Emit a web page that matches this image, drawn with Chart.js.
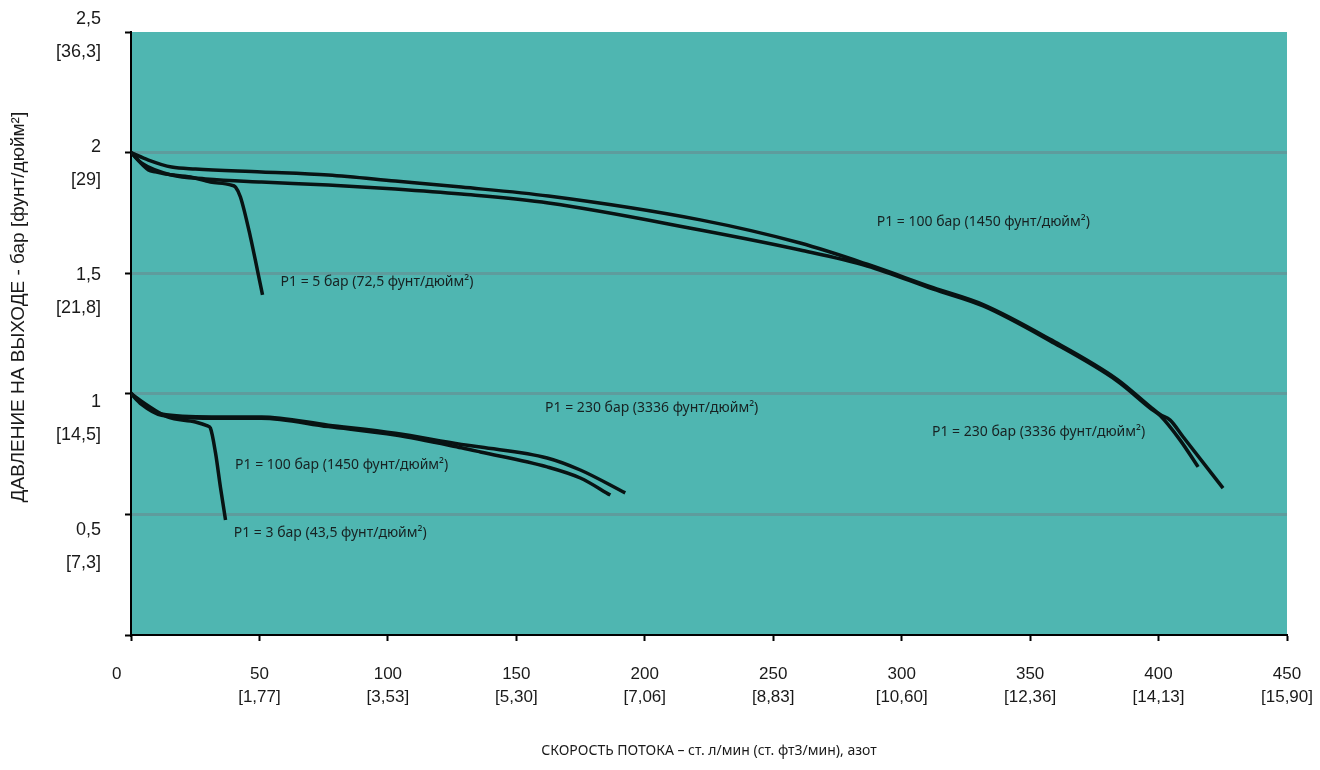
<!DOCTYPE html>
<html lang="ru">
<head>
<meta charset="utf-8">
<title>Расходная характеристика регулятора</title>
<script src="https://cdn.jsdelivr.net/npm/chart.js@4.4.1/dist/chart.umd.min.js"></script>
<style>
    html, body { margin: 0; padding: 0; background: #fff; }
    canvas { display: block; }
</style>
</head>
<body>
<canvas id="flowChart" width="1320" height="770"></canvas>
<script>
// Подписи осей (бар / фунт/дюйм², л/мин / фт3/мин)
const xTickValues = [0, 50, 100, 150, 200, 250, 300, 350, 400, 450];
const xTickLabels = ['0      ', '50', '100', '150', '200', '250', '300', '350', '400', '450'];
const xTickLabelsAlt = ['', '[1,77]', '[3,53]', '[5,30]', '[7,06]', '[8,83]', '[10,60]', '[12,36]', '[14,13]', '[15,90]'];
const yTickValues = [0.5, 1, 1.5, 2, 2.5];
const yTickLabels = ['0,5', '1', '1,5', '2', '2,5'];
const yTickLabelsAlt = ['[7,3]', '[14,5]', '[21,8]', '[29]', '[36,3]'];

// P2 = 2 бар, P1 = 230 бар
const flow2_230 = [0, 6.8, 15.8, 25.1, 50.8, 76.8, 102.9, 128.6, 162.5, 221.6, 260.5, 286.6, 312.3, 331.7, 357.8, 383.9, 396.7, 400.6, 404.5, 409.6, 425.1];
const press2_230 = [2.0, 1.969, 1.940, 1.932, 1.920, 1.907, 1.882, 1.857, 1.820, 1.721, 1.625, 1.537, 1.440, 1.370, 1.226, 1.060, 0.947, 0.914, 0.891, 0.821, 0.609];
// P2 = 2 бар, P1 = 100 бар
const flow2_100 = [0, 4.2, 15.8, 29, 50.8, 76.8, 102.9, 128.6, 162.5, 221.6, 260.5, 286.6, 312.3, 331.7, 357.8, 383.9, 396.7, 400.6, 408.4, 415.4];
const press2_100 = [2.0, 1.956, 1.907, 1.891, 1.878, 1.866, 1.849, 1.828, 1.791, 1.679, 1.596, 1.530, 1.434, 1.364, 1.219, 1.053, 0.941, 0.910, 0.808, 0.697];
// P2 = 2 бар, P1 = 5 бар
const flow2_5 = [0, 6.8, 9.5, 13.4, 23.2, 30.9, 38.7, 40.7, 42.6, 46.5, 49.2, 51.2];
const press2_5 = [2.0, 1.928, 1.920, 1.911, 1.899, 1.878, 1.866, 1.857, 1.816, 1.650, 1.513, 1.41];

// P2 = 1 бар, P1 = 230 бар
const flow1_230 = [0, 4.1, 11.9, 31.3, 50.8, 76.8, 102.9, 128.6, 136, 162, 174.9, 192.4];
const press1_230 = [1.003, 0.962, 0.916, 0.904, 0.904, 0.870, 0.836, 0.790, 0.779, 0.734, 0.684, 0.589];
// P2 = 1 бар, P1 = 100 бар
const flow1_100 = [0, 4.1, 11.9, 31.3, 50.8, 76.8, 102.9, 128.6, 136, 162, 174.9, 186.6];
const press1_100 = [1.0, 0.956, 0.911, 0.899, 0.899, 0.864, 0.829, 0.776, 0.759, 0.697, 0.651, 0.580];
// P2 = 1 бар, P1 = 3 бар
const flow1_3 = [0, 5.6, 14.2, 25.1, 29.8, 30.9, 32.9, 34.8, 36.8];
const press1_3 = [1.0, 0.958, 0.904, 0.883, 0.867, 0.858, 0.755, 0.614, 0.477];

// Подписи кривых (в координатах данных)
const noteTexts = [
    'P1 = 5 бар (72,5 фунт/дюйм²)',
    'P1 = 100 бар (1450 фунт/дюйм²)',
    'P1 = 230 бар (3336 фунт/дюйм²)',
    'P1 = 230 бар (3336 фунт/дюйм²)',
    'P1 = 100 бар (1450 фунт/дюйм²)',
    'P1 = 3 бар (43,5 фунт/дюйм²)'
];
const noteX = [58.2, 290.3, 311.8, 161.2, 40.5, 40];
const noteY = [1.464, 1.714, 0.843, 0.942, 0.705, 0.422];

document.addEventListener('DOMContentLoaded', () => {
    const toPoints = (xs, ys) => xs.map((x, i) => ({ x: x, y: ys[i] }));

    const curves = [
        [flow2_230, press2_230],
        [flow2_100, press2_100],
        [flow2_5, press2_5],
        [flow1_230, press1_230],
        [flow1_100, press1_100],
        [flow1_3, press1_3]
    ];

    // Заливка области построения
    const plotBackground = {
        id: 'plotBackground',
        beforeDraw(chart) {
            const { ctx, chartArea: a } = chart;
            ctx.save();
            ctx.fillStyle = '#ffffff';
            ctx.fillRect(0, 0, chart.width, chart.height);
            ctx.fillStyle = '#4fb6b1';
            ctx.fillRect(a.left, a.top, a.right - a.left, a.bottom - a.top);
            ctx.restore();
        }
    };

    // Подписи P1 рядом с кривыми
    const curveNotes = {
        id: 'curveNotes',
        afterDatasetsDraw(chart) {
            const { ctx, scales } = chart;
            ctx.save();
            ctx.font = '14px "Noto Sans"';
            ctx.fillStyle = '#172222';
            ctx.textAlign = 'left';
            ctx.textBaseline = 'middle';
            noteTexts.forEach((t, i) => {
                ctx.fillText(t, scales.x.getPixelForValue(noteX[i]), scales.y.getPixelForValue(noteY[i]));
            });
            ctx.restore();
        }
    };

    const ctx = document.getElementById('flowChart').getContext('2d');

    new Chart(ctx, {
        type: 'line',
        data: {
            datasets: curves.map(c => ({
                data: toPoints(c[0], c[1]),
                borderColor: '#081313',
                borderWidth: 3.5,
                pointRadius: 0,
                cubicInterpolationMode: 'monotone',
                fill: false
            }))
        },
        options: {
            responsive: false,
            animation: false,
            layout: { padding: { top: 32, right: 33, bottom: 0, left: 0 } },
            plugins: {
                legend: { display: false },
                tooltip: { enabled: false }
            },
            scales: {
                x: {
                    type: 'linear',
                    min: 0,
                    max: 450,
                    afterBuildTicks: s => { s.ticks = xTickValues.map(v => ({ value: v })); },
                    afterFit: s => { s.height = 135; s.paddingLeft = 0; s.paddingRight = 0; },
                    border: { display: true, color: '#000', width: 2 },
                    grid: { drawOnChartArea: false, tickLength: 6, tickColor: '#000', tickWidth: 2 },
                    ticks: {
                        autoSkip: false,
                        maxRotation: 0,
                        padding: 22,
                        color: '#1a1a1a',
                        font: { family: 'Liberation Sans', size: 17, lineHeight: 1.35 },
                        callback: (v, i) => [xTickLabels[i], xTickLabelsAlt[i]]
                    },
                    title: {
                        display: true,
                        text: 'СКОРОСТЬ ПОТОКА – ст. л/мин (ст. фт3/мин), азот',
                        color: '#1a1a1a',
                        font: { family: 'Noto Sans', size: 14 },
                        padding: { top: 0, bottom: 11 }
                    }
                },
                y: {
                    type: 'linear',
                    position: 'left',
                    weight: 0,
                    min: 0,
                    max: 2.5,
                    afterFit: s => { s.width = 10; s.paddingTop = 0; s.paddingBottom = 0; },
                    border: { display: true, color: '#000', width: 2 },
                    grid: {
                        color: c => (c.tick && c.tick.value > 0 && c.tick.value < 2.5) ? '#5e9c9d' : 'rgba(0,0,0,0)',
                        lineWidth: 3,
                        tickColor: '#000',
                        tickWidth: 2,
                        tickLength: 6
                    },
                    ticks: { display: false, stepSize: 0.5 }
                },
                // ось только для двухстрочных подписей
                yl: {
                    type: 'linear',
                    position: 'left',
                    weight: 1,
                    min: 0.154,
                    max: 2.514,
                    afterBuildTicks: s => { s.ticks = yTickValues.map(v => ({ value: v })); },
                    afterFit: s => { s.width = 121; s.paddingTop = 0; s.paddingBottom = 0; },
                    border: { display: false },
                    grid: { display: false, drawTicks: false },
                    ticks: {
                        padding: 20,
                        color: '#1a1a1a',
                        font: { family: 'Liberation Sans', size: 18, lineHeight: 1.83 },
                        callback: (v, i) => [yTickLabels[i], yTickLabelsAlt[i]]
                    },
                    title: {
                        display: true,
                        text: '          ДАВЛЕНИЕ НА ВЫХОДЕ - бар [фунт/дюйм²]',
                        color: '#1a1a1a',
                        font: { family: 'Liberation Sans', size: 19 },
                        padding: { top: 7, bottom: 0 }
                    }
                }
            }
        },
        plugins: [plotBackground, curveNotes]
    });
});
</script>
</body>
</html>
